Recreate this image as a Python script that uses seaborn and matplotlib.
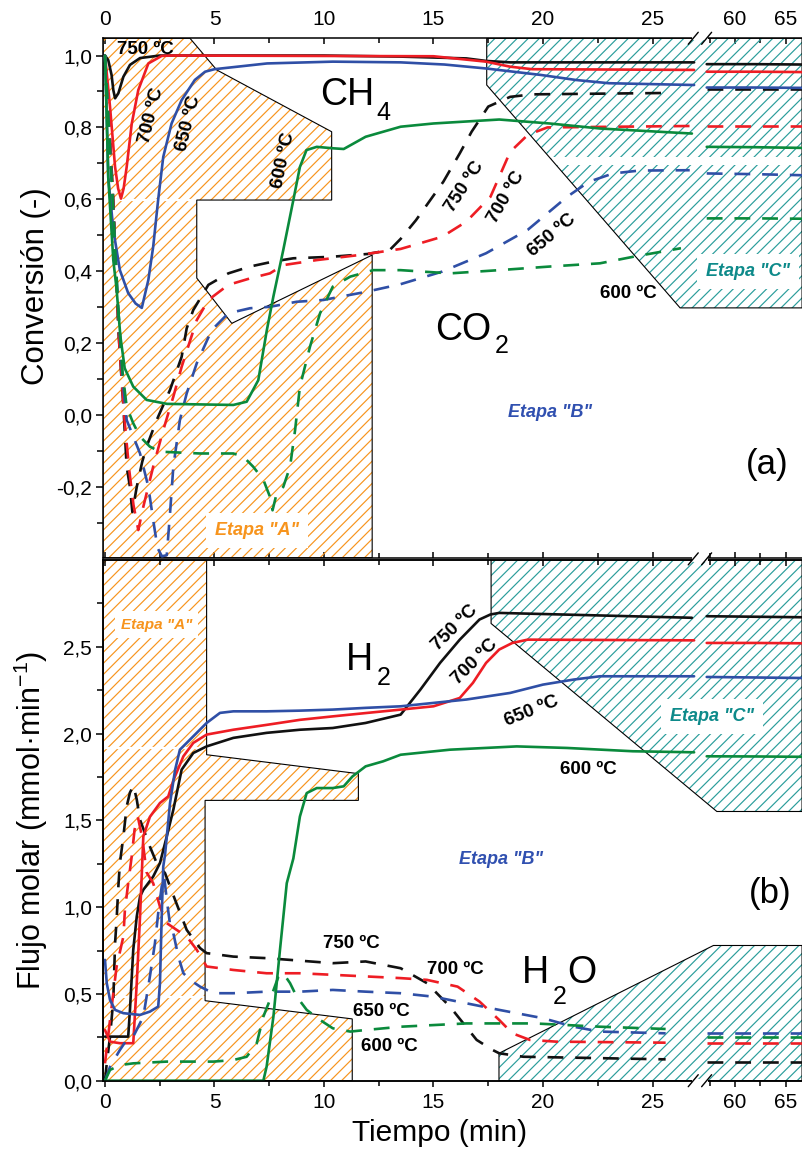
import numpy as np
import pandas as pd
import matplotlib
matplotlib.use("Agg")
import matplotlib.pyplot as plt
import seaborn as sns
from matplotlib.patches import Polygon
from matplotlib.lines import Line2D
from matplotlib.ticker import FixedLocator, FuncFormatter
from matplotlib.transforms import IdentityTransform

sns.set_theme(style="ticks", rc={
    "axes.edgecolor": "black", "xtick.color": "black", "ytick.color": "black",
    "text.color": "black", "axes.labelcolor": "black", "axes.linewidth": 1.1,
})
plt.rcParams["font.family"] = ["Liberation Sans", "DejaVu Sans"]
plt.rcParams["mathtext.fontset"] = "custom"
plt.rcParams["mathtext.rm"] = "Liberation Sans"
plt.rcParams["mathtext.it"] = "Liberation Sans:italic"
plt.rcParams["hatch.linewidth"] = 0.85

TEMPS = ["750 ºC", "700 ºC", "650 ºC", "600 ºC"]
PALETTE = {"750 ºC": "#111111", "700 ºC": "#ee1d24", "650 ºC": "#2f4fa6", "600 ºC": "#0a8a3c"}
ORANGE = "#f7941d"
TEAL = "#2a9d9b"
TEAL_TEXT = "#0d8a8a"
BLUE_TEXT = "#3050b0"

# times of the long-run readings (after the axis break)
T_LATE = [57.2, 62.0, 66.7]

# ---------------- (a) conversion: CH4 (solid) ----------------
CH4_750_T = [0, 0.15, 0.3, 0.38, 0.46, 0.61, 0.84, 1.14, 1.6, 2.5, 10, 13.5, 16.5, 17.4, 18.5, 26.9]
CH4_750 = [1.0, 0.987, 0.946, 0.904, 0.881, 0.895, 0.941, 0.974, 0.993, 1.0, 1.0, 0.997, 0.992, 0.985, 0.981, 0.981]
CH4_750_LATE = [0.976, 0.976, 0.975]

CH4_700_T = [0, 0.23, 0.46, 0.6, 0.73, 0.85, 0.99, 1.22, 1.52, 1.98, 2.59, 3.1, 15, 17.4, 18.5, 19.5, 26.9]
CH4_700 = [1.0, 0.857, 0.69, 0.63, 0.602, 0.63, 0.69, 0.81, 0.904, 0.978, 0.999, 1.0, 0.998, 0.983, 0.969, 0.962, 0.96]
CH4_700_LATE = [0.955, 0.955, 0.954]

CH4_650_T = [0, 0.05, 0.1, 0.15, 0.38, 0.68, 1.06, 1.4, 1.68, 1.98, 2.2, 2.43, 2.66, 3.04, 3.5, 4.1,
             4.57, 5.0, 7.4, 10.4, 13.5, 15.5, 17.4, 19.9, 21.5, 23, 26.9]
CH4_650 = [1.0, 0.9, 0.78, 0.66, 0.515, 0.403, 0.339, 0.31, 0.298, 0.376, 0.468, 0.60, 0.718, 0.811, 0.876, 0.932,
           0.955, 0.962, 0.978, 0.983, 0.981, 0.975, 0.964, 0.946, 0.932, 0.923, 0.918]
CH4_650_LATE = [0.911, 0.911, 0.91]

CH4_600_T = [0, 0.07, 0.15, 0.38, 0.53, 0.7, 0.9, 1.29, 1.9, 2.83, 5.86, 6.47, 7.0, 7.39, 7.69, 8.14, 8.6, 8.9,
             9.2, 9.67, 10.4, 10.9, 11.9, 13.5, 15, 18, 20.3, 22.6, 26.8]
CH4_600 = [1.0, 0.85, 0.66, 0.43, 0.35, 0.22, 0.13, 0.079, 0.042, 0.031, 0.028, 0.037, 0.097, 0.236, 0.33, 0.459,
           0.598, 0.69, 0.737, 0.746, 0.742, 0.74, 0.774, 0.802, 0.811, 0.822, 0.811, 0.797, 0.783]
CH4_600_LATE = [0.746, 0.745, 0.743]

# ---------------- (a) conversion: CO2 (dashed) ----------------
CO2_750_T = [0, 0.2, 0.38, 0.61, 0.84, 0.99, 1.14, 1.25, 1.45, 1.7, 1.9, 2.36, 2.97, 3.5, 3.73, 4.03, 4.72, 5.63,
             6.62, 7.69, 8.6, 10.3, 12.0, 13.0, 13.5, 14.2, 15.45, 16.2, 16.74, 17.5, 18.5, 19.5, 25.9]
CO2_750 = [1.0, 0.8, 0.598, 0.236, 0.023, -0.144, -0.2, -0.27, -0.2, -0.13, -0.088, -0.014, 0.07, 0.162, 0.241,
           0.292, 0.362, 0.394, 0.413, 0.427, 0.436, 0.44, 0.448, 0.459, 0.49, 0.542, 0.649, 0.728, 0.788, 0.858,
           0.885, 0.892, 0.896]
CO2_750_LATE = [0.908, 0.908, 0.908]

CO2_700_T = [0, 0.2, 0.38, 0.65, 0.9, 1.1, 1.3, 1.52, 1.75, 2.2, 2.66, 3.12, 3.5, 4.19, 4.72, 5.63, 6.62, 7.53,
             8.14, 9.67, 11.6, 13.5, 14.4, 15.4, 16.5, 17.6, 18.5, 19.3, 20.2, 26.7]
CO2_700 = [1.0, 0.8, 0.58, 0.2, -0.02, -0.15, -0.25, -0.32, -0.255, -0.144, -0.042, 0.051, 0.134, 0.264, 0.32,
           0.362, 0.38, 0.394, 0.417, 0.431, 0.445, 0.462, 0.478, 0.496, 0.538, 0.607, 0.732, 0.779, 0.80, 0.804]
CO2_700_LATE = [0.804, 0.804, 0.804]

CO2_650_T = [0, 0.35, 0.6, 0.8, 0.99, 1.6, 1.98, 2.2, 2.4, 2.6, 2.82, 2.97, 3.12, 3.42, 3.73, 4.19, 4.87, 5.63,
             6.62, 7.53, 8.75, 9.97, 11.95, 13.5, 15.4, 17.4, 19.3, 21.1, 22.1, 23.2, 24.4, 26.7]
CO2_650 = [1.0, 0.6, 0.3, 0.1, -0.014, -0.107, -0.2, -0.292, -0.37, -0.393, -0.39, -0.273, -0.144, -0.014, 0.06,
           0.144, 0.236, 0.283, 0.297, 0.301, 0.315, 0.32, 0.343, 0.364, 0.399, 0.45, 0.515, 0.607, 0.649, 0.672,
           0.68, 0.681]
CO2_650_LATE = [0.672, 0.67, 0.667]

CO2_600_T = [0, 0.35, 0.6, 0.8, 0.99, 1.29, 1.6, 2.05, 2.51, 4.34, 5.86, 6.32, 6.77, 7.23, 7.53, 7.65, 7.84, 8.14,
             8.45, 8.68, 8.9, 9.36, 9.82, 10.4, 11.2, 12.25, 13.5, 15.75, 18.0, 20.3, 22.6, 24.1, 26.3]
CO2_600 = [1.0, 0.6, 0.3, 0.12, 0.023, -0.023, -0.06, -0.088, -0.102, -0.107, -0.107, -0.116, -0.144, -0.18,
           -0.227, -0.265, -0.218, -0.2, -0.144, -0.042, 0.079, 0.19, 0.283, 0.357, 0.385, 0.403, 0.403, 0.394,
           0.403, 0.413, 0.422, 0.44, 0.464]
CO2_600_LATE = [0.547, 0.547, 0.546]

# ---------------- (b) molar flow: H2 (solid) ----------------
H2_750_T = [0, 1.06, 1.14, 1.29, 1.45, 1.6, 1.75, 2.2, 2.51, 2.82, 3.12, 3.5, 4.03, 4.64, 5.86, 7.38, 8.9, 10.4,
            11.9, 13.5, 14.4, 15.3, 16.2, 17.1, 17.6, 18.0, 26.8]
H2_750 = [0.254, 0.254, 0.408, 0.754, 0.946, 1.061, 1.1, 1.176, 1.254, 1.407, 1.561, 1.792, 1.888, 1.926, 1.975,
          2.004, 2.022, 2.032, 2.061, 2.109, 2.253, 2.407, 2.541, 2.657, 2.686, 2.695, 2.667]
H2_750_LATE = [2.676, 2.673, 2.67]

H2_700_T = [0, 0.23, 0.68, 1.29, 1.45, 1.6, 1.75, 2.05, 2.51, 2.89, 3.12, 3.58, 4.03, 4.64, 5.86, 7.38, 8.9,
            10.4, 11.9, 13.5, 15.0, 16.2, 16.8, 17.4, 18.0, 18.6, 19.3, 26.9]
H2_700 = [0.292, 0.225, 0.216, 0.216, 0.562, 0.946, 1.407, 1.52, 1.6, 1.638, 1.73, 1.869, 1.946, 1.994, 2.022,
          2.05, 2.079, 2.099, 2.118, 2.138, 2.157, 2.205, 2.292, 2.407, 2.484, 2.522, 2.541, 2.537]
H2_700_LATE = [2.522, 2.522, 2.52]

H2_650_T = [0, 0.08, 0.23, 0.46, 0.84, 1.6, 2.05, 2.43, 2.51, 2.59, 2.66, 2.74, 2.97, 3.2, 3.42, 3.88, 4.64,
            5.25, 5.86, 7.38, 8.9, 10.4, 11.9, 13.5, 16.5, 18.5, 20.0, 21.4, 22.6, 26.9]
H2_650 = [0.696, 0.562, 0.465, 0.408, 0.389, 0.379, 0.398, 0.427, 0.562, 0.946, 1.234, 1.3, 1.6, 1.79, 1.907,
          1.965, 2.061, 2.119, 2.128, 2.128, 2.132, 2.138, 2.148, 2.157, 2.196, 2.234, 2.282, 2.311, 2.33, 2.33]
H2_650_LATE = [2.326, 2.323, 2.32]

H2_600_T = [0, 7.23, 7.38, 7.69, 7.99, 8.3, 8.6, 8.9, 9.21, 9.67, 10.4, 10.9, 11.3, 11.9, 12.7, 13.5, 15.75, 18.8,
            21.1, 24.1, 26.9]
H2_600 = [0, 0, 0.081, 0.369, 0.754, 1.138, 1.28, 1.522, 1.657, 1.686, 1.686, 1.696, 1.753, 1.811, 1.84, 1.878,
          1.907, 1.926, 1.917, 1.898, 1.892]
H2_600_LATE = [1.869, 1.868, 1.866]

# ---------------- (b) molar flow: H2O (dashed) ----------------
H2O_750_T = [0, 0.08, 0.23, 0.38, 0.46, 0.53, 0.61, 0.68, 0.84, 0.99, 1.14, 1.3, 1.45, 1.6, 1.9, 2.05, 2.36,
             2.74, 3.2, 3.73, 4.34, 4.64, 5.86, 7.38, 8.45, 10.4, 11.9, 13.5, 14.7, 15.75, 16.97, 17.7, 18.0,
             19.1, 25.6]
H2O_750 = [0, 0.1, 0.254, 0.465, 0.792, 0.927, 1.119, 1.254, 1.407, 1.58, 1.66, 1.70, 1.62, 1.503, 1.4, 1.349,
           1.254, 1.196, 1.042, 0.869, 0.764, 0.735, 0.715, 0.706, 0.696, 0.677, 0.687, 0.648, 0.562, 0.427, 0.235,
           0.177, 0.158, 0.138, 0.123]
H2O_750_LATE = [0.11, 0.11, 0.11]

H2O_700_T = [0, 0.23, 0.53, 0.84, 0.91, 1.06, 1.22, 1.35, 1.5, 1.7, 1.9, 2.2, 2.51, 2.82, 3.27, 3.73, 4.19, 4.64,
             5.86, 7.38, 8.9, 10.4, 13.5, 14.7, 16.1, 17.1, 18.0, 18.6, 19.4, 20.6, 25.6]
H2O_700 = [0.1, 0.35, 0.658, 0.831, 0.985, 1.138, 1.292, 1.446, 1.52, 1.4, 1.2, 1.138, 1.003, 0.908, 0.869,
           0.831, 0.754, 0.658, 0.638, 0.619, 0.619, 0.61, 0.591, 0.581, 0.542, 0.456, 0.35, 0.273, 0.235, 0.225,
           0.219]
H2O_700_LATE = [0.216, 0.216, 0.216]

H2O_650_T = [0, 0.23, 0.68, 0.99, 1.29, 1.75, 2.05, 2.28, 2.43, 2.59, 2.7, 2.82, 2.97, 3.12, 3.35, 3.58, 3.88,
             4.34, 4.95, 5.86, 7.38, 8.9, 10.4, 11.9, 13.5, 15.0, 16.5, 18.0, 20.0, 21.4, 22.6, 25.6]
H2O_650 = [0, 0.08, 0.177, 0.235, 0.254, 0.369, 0.6, 0.792, 0.965, 1.119, 1.18, 1.042, 0.9, 0.85, 0.715, 0.619,
           0.581, 0.542, 0.504, 0.504, 0.513, 0.513, 0.523, 0.513, 0.504, 0.484, 0.446, 0.408, 0.36, 0.311, 0.283,
           0.273]
H2O_650_LATE = [0.273, 0.273, 0.273]

H2O_600_T = [0, 0.23, 0.68, 1.29, 2.82, 4.95, 5.86, 6.47, 6.93, 7.23, 7.53, 7.92, 8.14, 8.45, 8.75, 9.21, 9.82,
             10.4, 11.2, 11.9, 13.5, 16.5, 19.6, 22.6, 25.6]
H2O_600 = [0, 0.062, 0.09, 0.1, 0.11, 0.11, 0.119, 0.138, 0.216, 0.369, 0.465, 0.6, 0.619, 0.562, 0.485, 0.408,
           0.35, 0.302, 0.283, 0.292, 0.311, 0.33, 0.33, 0.311, 0.298]
H2O_600_LATE = [0.254, 0.254, 0.254]

# ---------------- shaded stages ----------------
STAGE_A_TOP = [(-0.09, 1.048), (3.88, 1.048), (5.1, 0.96), (10.35, 0.788), (10.35, 0.598), (4.19, 0.598),
               (4.19, 0.381), (5.79, 0.255), (12.2, 0.445), (12.2, -0.397), (-0.09, -0.397)]
STAGE_C_TOP = [(17.43, 1.048), (66.62, 1.048), (66.62, 0.298), (26.26, 0.298), (17.43, 0.918)]
STAGE_A_BOT = [(-0.09, 3.0), (4.64, 3.0), (4.64, 1.878), (11.57, 1.769), (11.57, 1.615), (4.57, 1.615),
               (4.57, 0.461), (11.29, 0.356), (11.29, 0.0), (-0.09, 0.0)]
STAGE_C_BOT_UP = [(17.63, 3.0), (66.62, 3.0), (66.62, 1.551), (58.2, 1.551), (17.63, 2.634)]
STAGE_C_BOT_LOW = [(17.99, 0.0), (17.99, 0.158), (57.86, 0.779), (66.62, 0.779), (66.62, 0.0)]

X_MAJOR = [0, 5, 10, 15, 20, 25, 60, 65]
X_MINOR = [2.5, 7.5, 12.5, 17.5, 22.5, 57.5, 62.5]
XLIM = (-0.09, 66.62)

# broken time axis: 0-27 at full width, 56.7-67 compressed
XP = [-100.0, 27.2, 56.7, 300.0]
UP = [-100.0, 27.2, 27.245, 27.245 + (300.0 - 56.7) * 0.462]


def fwd(x):
    return np.interp(x, XP, UP)


def inv(u):
    return np.interp(u, UP, XP)


def build_frame(series):
    rows = []
    for gas, temp, t, v, late in series:
        for x, y in zip(t, v):
            rows.append((gas, temp, f"{gas} {temp} a", x, y))
        for x, y in zip(T_LATE, late):
            rows.append((gas, temp, f"{gas} {temp} b", x, y))
    return pd.DataFrame(rows, columns=["gas", "temp", "unit", "t", "value"])


top_df = build_frame([
    ("CH4", "750 ºC", CH4_750_T, CH4_750, CH4_750_LATE),
    ("CH4", "700 ºC", CH4_700_T, CH4_700, CH4_700_LATE),
    ("CH4", "650 ºC", CH4_650_T, CH4_650, CH4_650_LATE),
    ("CH4", "600 ºC", CH4_600_T, CH4_600, CH4_600_LATE),
    ("CO2", "750 ºC", CO2_750_T, CO2_750, CO2_750_LATE),
    ("CO2", "700 ºC", CO2_700_T, CO2_700, CO2_700_LATE),
    ("CO2", "650 ºC", CO2_650_T, CO2_650, CO2_650_LATE),
    ("CO2", "600 ºC", CO2_600_T, CO2_600, CO2_600_LATE),
])
bot_df = build_frame([
    ("H2", "750 ºC", H2_750_T, H2_750, H2_750_LATE),
    ("H2", "700 ºC", H2_700_T, H2_700, H2_700_LATE),
    ("H2", "650 ºC", H2_650_T, H2_650, H2_650_LATE),
    ("H2", "600 ºC", H2_600_T, H2_600, H2_600_LATE),
    ("H2O", "750 ºC", H2O_750_T, H2O_750, H2O_750_LATE),
    ("H2O", "700 ºC", H2O_700_T, H2O_700, H2O_700_LATE),
    ("H2O", "650 ºC", H2O_650_T, H2O_650, H2O_650_LATE),
    ("H2O", "600 ºC", H2O_600_T, H2O_600, H2O_600_LATE),
])

fig = plt.figure(figsize=(8.03, 11.6), dpi=100)
ax1 = fig.add_axes([0.1283, 0.5192, 0.8705, 0.4478])
ax2 = fig.add_axes([0.1283, 0.06836, 0.8705, 0.4489])

for ax in (ax1, ax2):
    ax.set_xscale("function", functions=(fwd, inv))

DASH = (6, 4.5)
sns.lineplot(data=top_df, x="t", y="value", hue="temp", style="gas", units="unit", estimator=None,
             palette=PALETTE, hue_order=TEMPS, style_order=["CH4", "CO2"],
             dashes={"CH4": "", "CO2": DASH}, linewidth=1.9, legend=False, sort=False, ax=ax1, zorder=3)
sns.lineplot(data=bot_df, x="t", y="value", hue="temp", style="gas", units="unit", estimator=None,
             palette=PALETTE, hue_order=TEMPS, style_order=["H2", "H2O"],
             dashes={"H2": "", "H2O": DASH}, linewidth=1.9, legend=False, sort=False, ax=ax2, zorder=3)


def hatch_region(ax, verts, color):
    ax.add_patch(Polygon(verts, closed=True, facecolor="none", edgecolor=color, hatch="///",
                         linewidth=0, zorder=1))
    ax.add_patch(Polygon(verts, closed=True, facecolor="none", edgecolor="black",
                         linewidth=0.8, zorder=1.6))


hatch_region(ax1, STAGE_A_TOP, ORANGE)
hatch_region(ax1, STAGE_C_TOP, TEAL)
hatch_region(ax2, STAGE_A_BOT, ORANGE)
hatch_region(ax2, STAGE_C_BOT_UP, TEAL)
hatch_region(ax2, STAGE_C_BOT_LOW, TEAL)

# pale seams across the shading
ax1.plot([-0.09, 4.19], [0.598, 0.598], color="white", lw=1.6, zorder=1.5)
ax1.add_patch(plt.Rectangle((20.4, 0.696), 50, 0.021, facecolor="white", edgecolor="none", zorder=1.5))
ax2.plot([-0.09, 4.57], [1.917, 1.917], color="white", lw=1.6, zorder=1.5)
ax2.plot([0.1, 4.57], [0.484, 0.484], color="white", lw=1.6, zorder=1.5)

# axes styling
FS_TICK = 15
comma = FuncFormatter(lambda v, p: ("%.1f" % v).replace(".", ",").replace("-0,0", "0,0"))
for ax in (ax1, ax2):
    ax.set_xlim(*XLIM)
    ax.xaxis.set_major_locator(FixedLocator(X_MAJOR))
    ax.xaxis.set_minor_locator(FixedLocator(X_MINOR))
    ax.xaxis.set_major_formatter(FuncFormatter(lambda v, p: "%g" % v))
    ax.set_xlabel("")
    ax.set_ylabel("")
    ax.spines["right"].set_visible(False)
    ax.tick_params(axis="y", which="both", left=True, right=False, direction="out", labelsize=FS_TICK,
                   width=1.1, pad=3)
    ax.tick_params(axis="y", which="major", length=5)
    ax.tick_params(axis="y", which="minor", length=4.5)
    ax.yaxis.set_major_formatter(comma)

ax1.set_ylim(-0.397, 1.048)
ax1.yaxis.set_major_locator(FixedLocator([-0.2, 0.0, 0.2, 0.4, 0.6, 0.8, 1.0]))
ax1.yaxis.set_minor_locator(FixedLocator([-0.3, -0.1, 0.1, 0.3, 0.5, 0.7, 0.9]))
ax1.tick_params(axis="x", which="both", top=True, bottom=True, labeltop=True, labelbottom=False,
                direction="in", labelsize=FS_TICK, width=1.1, pad=7)
ax1.tick_params(axis="x", which="major", length=4.5)
ax1.tick_params(axis="x", which="minor", length=3.5)

ax2.set_ylim(0.0, 3.0)
ax2.yaxis.set_major_locator(FixedLocator([0.0, 0.5, 1.0, 1.5, 2.0, 2.5]))
ax2.yaxis.set_minor_locator(FixedLocator([0.25, 0.75, 1.25, 1.75, 2.25, 2.75]))
ax2.tick_params(axis="x", which="both", top=False, bottom=True, labeltop=False, labelbottom=True,
                direction="out", labelsize=FS_TICK, width=1.1, pad=4)
ax2.tick_params(axis="x", which="major", length=4.5)
ax2.tick_params(axis="x", which="minor", length=3.5)

# inward ticks on the top edge of the lower panel
ax2t = ax2.twiny()
ax2t.set_xscale("function", functions=(fwd, inv))
ax2t.set_xlim(*XLIM)
ax2t.xaxis.set_major_locator(FixedLocator(X_MAJOR))
ax2t.xaxis.set_minor_locator(FixedLocator(X_MINOR))
ax2t.tick_params(axis="x", which="both", top=True, bottom=False, labeltop=False, labelbottom=False,
                 direction="in", width=1.1)
ax2t.tick_params(axis="x", which="major", length=4.5)
ax2t.tick_params(axis="x", which="minor", length=3.5)
ax2t.spines["right"].set_visible(False)

# axis titles
fig.text(0.0445, 0.5208 + 0.4478 * 0.52, "Conversión (-)", rotation=90, ha="center", va="center", fontsize=22.5)
fig.text(0.039, 0.06836 + 0.4489 * 0.5, "Flujo molar (mmol·min$^{-1}$)", rotation=90, ha="center", va="center",
         fontsize=22)
fig.text(0.548, 0.0233, "Tiempo (min)", ha="center", va="center", fontsize=21.5)

# temperature tags
TAG = dict(fontsize=13.5, fontweight="bold", ha="center", va="center", rotation_mode="anchor", zorder=5)
TOP_TAGS = [("750 ºC", 1.83, 1.018, 0), ("700 ºC", 2.13, 0.834, 76), ("650 ºC", 3.80, 0.811, 76),
            ("600 ºC", 8.14, 0.709, 78), ("750 ºC", 16.44, 0.635, 57), ("700 ºC", 18.34, 0.607, 60),
            ("650 ºC", 20.4, 0.50, 40), ("600 ºC", 23.9, 0.338, 0)]
BOT_TAGS = [("750 ºC", 15.98, 2.609, 45), ("700 ºC", 16.9, 2.416, 45), ("650 ºC", 19.48, 2.128, 22),
            ("600 ºC", 22.07, 1.792, 0), ("750 ºC", 11.26, 0.792, 0), ("700 ºC", 15.98, 0.638, 0),
            ("650 ºC", 12.6, 0.40, 0), ("600 ºC", 13.0, 0.195, 0)]
for s, x, y, r in TOP_TAGS:
    ax1.text(x, y, s, rotation=r, **TAG)
for s, x, y, r in BOT_TAGS:
    ax2.text(x, y, s, rotation=r, **TAG)

# species names with subscripts
BIG = dict(ha="center", va="center", zorder=5)
ax1.text(11.04, 0.89, "CH", fontsize=27, **BIG)
ax1.text(12.7, 0.839, "4", fontsize=18, **BIG)
ax1.text(16.35, 0.236, "CO", fontsize=27, **BIG)
ax1.text(18.13, 0.192, "2", fontsize=18, **BIG)
ax2.text(11.64, 2.426, "H", fontsize=27, **BIG)
ax2.text(12.71, 2.32, "2", fontsize=18, **BIG)
ax2.text(19.67, 0.619, "H", fontsize=27, **BIG)
ax2.text(20.74, 0.484, "2", fontsize=18, **BIG)
ax2.text(21.77, 0.619, "O", fontsize=27, **BIG)
ax1.text(63.2, -0.139, "(a)", fontsize=25, **BIG)
ax2.text(63.45, 1.081, "(b)", fontsize=25, **BIG)

# stage names
STAGE = dict(fontweight="bold", fontstyle="italic", ha="center", va="center", zorder=5)
WHITE_BOX = dict(boxstyle="square,pad=0.5", facecolor="white", edgecolor="none")
ax1.text(6.93, -0.32, 'Etapa "A"', color=ORANGE, fontsize=13, bbox=WHITE_BOX, **STAGE)
ax1.text(20.3, 0.008, 'Etapa "B"', color=BLUE_TEXT, fontsize=13, **STAGE)
ax1.text(61.3, 0.399, 'Etapa "C"', color=TEAL_TEXT, fontsize=13, bbox=WHITE_BOX, **STAGE)
ax2.text(2.36, 2.628, 'Etapa "A"', color=ORANGE, fontsize=11, bbox=dict(WHITE_BOX, boxstyle="square,pad=0.4"),
         **STAGE)
ax2.text(18.1, 1.273, 'Etapa "B"', color=BLUE_TEXT, fontsize=13, **STAGE)
ax2.text(57.7, 2.099, 'Etapa "C"', color=TEAL_TEXT, fontsize=13, bbox=WHITE_BOX, **STAGE)

# axis-break marks on every horizontal edge
xl = ax1.transData.transform((26.86, 0.0))[0]
xr = ax1.transData.transform((57.19, 0.0))[0]
for yd in (ax1.bbox.y1, ax1.bbox.y0, ax2.bbox.y1, ax2.bbox.y0):
    fig.add_artist(Line2D([xl + 1, xr - 1], [yd, yd], color="white", lw=3, transform=IdentityTransform(),
                          zorder=10))
for yd in (ax1.bbox.y1, 0.5 * (ax1.bbox.y0 + ax2.bbox.y1), ax2.bbox.y0):
    for xd in (xl, xr):
        fig.add_artist(Line2D([xd - 5, xd + 5], [yd - 6, yd + 6], color="black", lw=1.0,
                              transform=IdentityTransform(), zorder=11))

fig.savefig("out.png", dpi=100)
